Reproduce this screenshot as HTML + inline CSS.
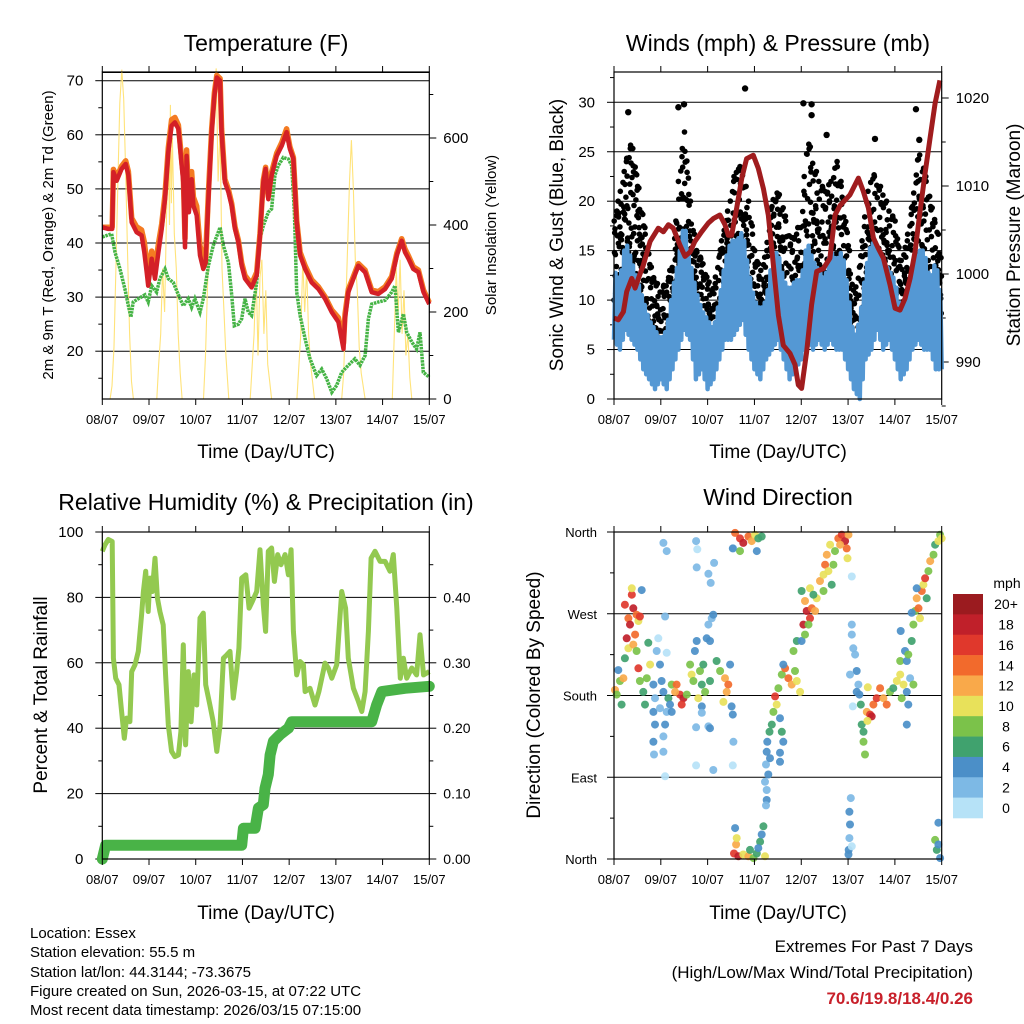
<!DOCTYPE html>
<html><head><meta charset="utf-8"><style>
body{margin:0;background:#fff}
svg{display:block;font-family:"Liberation Sans",Arial,sans-serif}
</style></head><body>
<svg id="s" width="1024" height="1024" viewBox="0 0 1024 1024" xmlns="http://www.w3.org/2000/svg">
<rect width="1024" height="1024" fill="#fff"/>
<g id="p1"></g>
<g id="p2"></g>
<g id="p3"></g>
<g id="p4"></g>
<g id="txt" font-size="15" fill="#000">
<text x="266" y="51" font-size="23" text-anchor="middle">Temperature (F)</text>
<text x="778" y="51" font-size="23" text-anchor="middle">Winds (mph) &amp; Pressure (mb)</text>
<text x="266" y="510" font-size="23" text-anchor="middle">Relative Humidity (%) &amp; Precipitation (in)</text>
<text x="778" y="505" font-size="23" text-anchor="middle">Wind Direction</text>
<text x="266" y="458" font-size="19" text-anchor="middle">Time (Day/UTC)</text>
<text x="778" y="458" font-size="19" text-anchor="middle">Time (Day/UTC)</text>
<text x="266" y="919" font-size="19" text-anchor="middle">Time (Day/UTC)</text>
<text x="778" y="919" font-size="19" text-anchor="middle">Time (Day/UTC)</text>
<text transform="translate(53,235) rotate(-90)" font-size="15" text-anchor="middle">2m &amp; 9m T (Red, Orange) &amp; 2m Td (Green)</text>
<text transform="translate(496,235) rotate(-90)" font-size="15" text-anchor="middle">Solar Insolation (Yellow)</text>
<text transform="translate(563,235) rotate(-90)" font-size="19" text-anchor="middle">Sonic Wind &amp; Gust (Blue, Black)</text>
<text transform="translate(1020,235) rotate(-90)" font-size="19" text-anchor="middle">Station Pressure (Maroon)</text>
<text transform="translate(47,695) rotate(-90)" font-size="19" text-anchor="middle">Percent &amp; Total Rainfall</text>
<text transform="translate(540,695) rotate(-90)" font-size="19" text-anchor="middle">Direction (Colored By Speed)</text>
<text x="30" y="938">Location: Essex</text>
<text x="30" y="957">Station elevation: 55.5 m</text>
<text x="30" y="977">Station lat/lon: 44.3144; -73.3675</text>
<text x="30" y="996">Figure created on Sun, 2026-03-15, at 07:22 UTC</text>
<text x="30" y="1015">Most recent data timestamp: 2026/03/15 07:15:00</text>
<text x="973" y="952" font-size="17" text-anchor="end">Extremes For Past 7 Days</text>
<text x="973" y="978" font-size="17" text-anchor="end">(High/Low/Max Wind/Total Precipitation)</text>
<text x="973" y="1004" font-size="17" font-weight="bold" fill="#c8202a" text-anchor="end">70.6/19.8/18.4/0.26</text>
</g>
</svg>
<script>
// ---------- data ----------
const dayLabels=["08/07","09/07","10/07","11/07","12/07","13/07","14/07","15/07"];
const tempHours=[0,3.1,5.1,5.7,7.4,9.9,12,13.4,15.1,17.6,20.2,21.6,22.8,23.6,25.4,27.1,28.8,30.5,32.2,33.9,35.6,37.3,39.1,40.8,41.6,42.5,43.3,44.5,45.9,46.8,48.5,50.2,51.9,53.1,54.5,56.2,57.6,58.8,60.5,61.3,63,64.8,66.5,68.2,69.9,71.6,73.3,76.7,79.3,81,82.7,83.9,85.3,87,89.6,92.2,94.7,96.4,98.2,99.9,101.6,104.2,107.6,111,114.4,117.9,121.3,123.9,124.7,126.4,129,131.6,135,138.4,141.8,145.3,148.7,151.3,153.8,155.5,157.3,159.8,162.4,165,168];
const temp2m=[42.9,42.6,42.6,53.1,51.5,53.7,54.6,52.5,43.8,42,41.4,38.3,34.6,32.1,37.1,33.4,38.3,42.6,48.1,56.8,61.7,62.3,61.1,54.3,51.2,39.2,56.1,45.7,51.8,46.9,45.1,37.7,35.2,36.4,48.1,60.5,67.2,70.6,70,60.5,51.2,49.4,46.9,42.6,40.1,35.8,33.4,31.8,34,41.4,51.2,53.7,48.1,52.5,56.1,58,60.5,57.4,55.5,43.8,37.7,35.2,32.7,31.5,29.7,27.2,25.4,20.4,26,30.9,33.4,35.8,34.6,30.9,30.6,31.5,33.4,37.7,40.4,38.3,37.1,35.2,34.6,30.9,28.7];
const temp9m=[42.9,42.9,43,53.6,52.2,54.2,55.2,53.2,44.6,43,42.4,40.2,36.5,34.2,38.5,35.3,39.8,43.5,49,57.6,62.8,63.2,61.8,55.2,52.4,40.8,57.2,47.2,53.2,48.5,46.8,39.5,36.8,37.8,49.2,61.2,67.8,71,70.4,61.2,51.8,49.9,47.3,43,40.5,36.3,34,32.4,34.6,41.8,51.6,54,48.6,53.1,56.6,58.6,61.1,57.8,55.8,44.2,38.3,35.8,33.2,31.9,30.1,27.6,26.2,21.5,26.8,31.4,33.8,36.2,35,31.3,31,31.9,33.8,38.1,40.8,38.9,37.6,35.6,35,31.3,29];
const dewHours=[0,4.8,6.5,9.1,11.6,13.4,14.7,15.9,18.5,21.9,23.6,25.4,27.9,29.6,32.2,33.9,36.5,39.1,41.6,44.2,45.9,47.6,50.2,51.9,54.5,57,60.5,62.2,64.8,66.5,67.8,69.9,71.6,73.3,75,76.7,79.3,81,82.7,85.3,87,88.7,90.4,93,95.6,97.3,98.7,99.9,101.6,104.2,106.7,110.1,112.7,115.3,117.9,120.4,123,126.4,129.8,132.4,135,136.7,138.4,141.8,145.3,148.7,150.4,152.1,154.7,156.4,159,161.5,163.2,164.9,168];
const dewPoint=[41.1,41.7,38.3,35.2,31.5,28.4,26.3,29.1,29.7,30.4,29.1,32.1,30.9,33.4,35.2,33.4,32.7,30.4,28.4,29.7,28.1,29.7,27.2,29.7,35.8,39.5,42.9,39.5,36.4,30.4,24.7,25,26,29.7,27.2,26.6,32.7,40.8,43.2,45.7,46.3,52.5,54.3,55.8,55.5,54.3,45.7,30.9,26.6,22.3,18.6,15.5,16.7,14.9,12.4,13.7,16.1,17.4,18.6,17.4,19.2,26,28.7,29.1,29.4,30.9,32.1,23.5,26.9,23.5,21.7,20.4,23.5,16.1,15.2];
const solarHours=[0,4,5,6,7,8,9,10,11,12,13,14,15,16,28,29,30,31,32,33,34,34.5,35,35.5,36,37,38,39,40,41,52,53,54,55,56,57,58.5,59.5,60.5,61.5,62.5,63.5,65,76,78,79,80,81,82,83,84,85,86,87,100,102,103,104,105,106,107,109,123,124,125,126,127,128,129,130,131,132,133,135,149,150,151,152,153,154,155,156,157,158,159,168];
const solar=[0,0,30,120,300,500,680,757,690,520,330,150,40,0,0,80,150,300,200,420,550,400,676,450,600,380,300,150,60,0,0,100,250,400,600,680,760,500,620,300,200,100,0,0,150,300,100,280,320,150,250,80,40,0,0,150,320,200,300,150,80,0,0,60,200,350,500,595,480,320,250,120,60,0,0,150,300,200,320,150,250,100,150,50,0,0];
const presHours=[0,2.2,4.8,6.5,9.1,10.8,12.5,15,18.5,22.7,25.3,27.9,30.4,33.8,36.4,39,41.5,44.9,48.4,50.9,54.3,56.9,58.6,60.3,62.9,65.5,68,71.4,74,76.6,79.1,81.7,84.3,86.8,90.2,92.8,94.5,96.2,98.8,101.3,103.9,107.3,110.7,113.3,115.9,121,125.3,127.8,130.4,133,135.5,138.1,141.5,144.1,146.6,149.2,151.8,154.3,156.9,159.4,162,164.6,167.1];
const pressure=[995,994.8,995.7,998,999.5,998.4,999.5,1001,1003.7,1005.2,1004.8,1005.6,1005.2,1003.3,1002,1002.5,1003.7,1004.8,1005.8,1006.3,1006.7,1005.6,1004.4,1004.4,1007.5,1010.9,1013.1,1013.5,1012,1009.7,1006.7,1001,995.3,991.9,991,989.7,987.4,987,991.2,996.5,1000.3,1000.6,1001.8,1006.7,1007.8,1009,1010.9,1009.4,1007.5,1004.1,1002.9,1001.8,998.8,996.1,995.9,997.2,999.5,1002.5,1007.1,1011.3,1015.4,1019.4,1022];
const windHi=[13,12,16,14,12,10,8,7,6,7,11,14,18,14,11,9,8,7,10,14,16,16,17,13,10,9,10,14,15,12,11,12,12,16,14,13,12,15,14,15,11,6,8,13,16,15,14,13,12,9,10,13,15,15,12,14,10];
const windLo=[6,5,7,6,5,3,2,1,2,1,3,5,7,6,2,3,1,2,4,6,6,7,8,5,3,2,4,5,6,4,2,3,4,6,5,6,5,6,5,5,3,1,0,4,5,7,5,6,4,2,3,5,6,5,5,3,3];
const gustHi=[18,21,24,26,22,18,14,12,11,12,14,22,27,20,15,14,12,11,15,18,21,24,23,20,15,13,15,20,21,19,16,17,18,27,24,22,21,22,24,21,16,10,14,20,23,22,21,19,18,14,16,20,25,23,20,18,14];
const gustLo=[10,9,12,14,12,8,6,4,4,4,7,10,14,10,6,5,4,4,7,9,11,12,12,9,6,5,6,9,10,8,6,7,8,12,11,10,9,10,11,9,6,3,4,8,11,11,10,9,8,6,7,9,10,10,9,8,7];
const gustOutHours=[7.3,33,35.9,67.2,97.1,101.3,101.3,109,154.8,133.8,156.5];
const gustOut=[29,29.5,29.8,31.4,29.9,29.8,28.7,26.7,29.3,26.3,26.2];
const rhHours=[0,1.4,3.1,5.1,5.7,6.9,8.6,9.9,11.3,12.5,14.2,15.1,16.8,18.5,20.2,21.1,22.3,23.6,24.5,25.7,27.1,28.3,29.6,31.3,32.5,33.9,35.6,37.3,39.1,40.4,41.6,42.8,44.2,45.6,47.1,48.5,50.2,51.9,53.1,55.3,57,58.8,60.5,62.2,63.9,65.6,67.3,69,70.2,71.6,73.7,75.4,77.1,79.3,81,82.7,83.9,85.3,87,88.4,90.1,91.8,93.9,95.6,97,98.2,99.9,101.6,103.3,104.2,106.7,109.3,111.3,114.4,116.1,117.9,120.4,123,125,126.4,129,131.6,133.3,135,136.7,138.1,140.1,142.7,145.3,147.8,149.5,151.3,153.1,154.7,156.4,159,161.5,163.2,165,168];
const rh=[94.1,96.1,97.7,97.1,61.4,55.3,53.3,45.1,36.9,43.1,42,57.3,59.4,63.5,74.7,81.8,88,75.7,85.9,81.8,92,79.8,75.7,71.6,56.3,41,32.9,31.3,31.8,39,65.5,34.9,57.3,42,56.3,47.1,73.7,75.2,53.3,47.1,42,32.9,41,61.4,62.4,63.5,49.2,57.3,64.5,85.9,86.9,76.7,78.8,81.8,94.6,77.8,69.6,94.1,95.1,84.9,93.1,90,93.1,86.9,94.6,69.6,56.3,60.4,59.4,51.2,52.2,47.1,51.2,59.9,58.4,55.3,59.4,81.8,76.7,61.4,52.2,48.2,45.1,51.2,69.6,92,94.1,91,91,88,93.1,76.7,55.3,61.4,55.3,58.4,56.3,68.6,56.3,57.3];
const rainHours=[0,1.7,71.6,72.5,78.5,80.2,82.7,83.6,85.3,86.2,87.9,91.3,95.6,97.3,138.4,141,143.6,155.5,168];
const rain=[0,0.021,0.021,0.047,0.047,0.078,0.083,0.108,0.129,0.159,0.18,0.19,0.2,0.21,0.21,0.236,0.256,0.261,0.264];
const dirHours=[0.5,1.4,3.1,4.8,3.9,2.2,5.6,7.4,9.1,9.1,9.9,8.2,6.5,10.8,12.5,11.6,13.3,5.6,7.4,9.9,11.6,14.2,12.5,13.3,15,16.8,18.5,15.9,17.6,20.2,21,21.9,20.2,21,20.2,20.5,23.6,24.4,25.3,23.6,26.2,27,27.9,29.6,28.7,25.3,25.3,26.2,27,22.7,26.2,25.3,27,32.1,33.8,35.6,34.7,31.3,37.3,29.6,39,39.8,41.5,40.7,42.4,44.1,45,45.8,47.5,48.4,49.2,46.7,49.2,45,43.2,50.1,50.9,42.1,42.7,42.4,48.4,49.6,51.3,42.1,42.1,50.9,48.4,49.2,45,52.6,54.4,56.9,58.6,57.8,59.5,56.1,60.3,60.9,61.2,60.9,61.2,62.1,64.6,66.3,68.9,70.6,72.3,74,75.7,73.2,64.6,60.9,61.5,62.6,62.9,62.1,63.8,66.3,68.9,71.5,73.2,74.9,75.7,76.6,74,69.7,77.4,77.4,77.9,78.3,78.6,79.7,80.9,81.7,82.6,83.4,84.3,80,79.1,78.3,78.3,77.9,85.1,86,85.1,85.1,86.8,86,87.7,89.4,91.1,92.8,93.7,95.4,86.8,92,93.7,96.2,96.2,97.9,98.8,100.5,101.4,103.1,97.1,99.7,103.9,100.5,97.9,102.2,105.6,107.4,108.2,109.1,110.8,111.6,113.3,115,116.8,118.5,119.3,120.2,119.7,115.9,112.5,109.9,107.4,121.9,121.9,122.7,123.6,124.4,125.3,125.8,126.5,122.4,121,121.9,124.4,121.4,120.7,121,120.7,120.3,121.9,120.2,127,127.9,128.7,129.6,131.3,133,134.7,132.1,127.9,129.9,136.4,130.1,138.1,139.8,141.5,143.2,145,146.7,148.4,147.5,150.1,150.9,150.1,151.8,153.5,149.2,146.7,147,150.1,150.9,152.6,153.5,154.4,155.2,156.1,156.9,157.8,158.6,159.5,161.2,162.1,163.8,164.6,166.3,167.2,168,155.2,152.6,160.3,164.6,165.5,166.3,166.3,167.2];
const dirDeg=[186,181,196,199,170,208,280,265,291,298,276,258,243,247,262,269,267,221,232,236,229,296,210,196,184,199,214,170,238,192,177,229,162,148,129,115,214,196,184,166,148,162,177,192,170,135,118,91,227,243,267,348,339,192,181,177,170,184,181,162,214,203,229,196,240,207,192,214,243,258,240,184,196,168,177,265,269,350,341,321,314,304,326,145,103,98,146,144,161,218,207,199,192,184,214,173,168,159,129,103,342,359,353,348,355,350,357,353,355,339,339,342,6,16,23,34,3,5,3,1,6,19,27,36,12,10,3,85,104,118,129,140,148,162,179,170,188,111,93,76,65,59,155,140,117,107,129,203,210,199,192,207,196,184,214,229,240,240,295,284,273,265,276,273,258,258,287,298,247,291,306,313,324,335,346,302,339,353,357,350,342,357,331,346,324,317,295,258,247,232,225,207,192,181,170,168,203,311,184,67,52,38,23,10,14,5,148,129,115,162,159,170,177,157,140,152,188,189,177,170,184,188,196,203,192,177,184,170,148,199,192,229,218,251,218,225,240,258,273,287,276,265,295,302,309,317,328,335,346,350,357,353,298,271,287,21,10,16,40,1];
const dirSpeed=[12,8,8,12,6,4,16,14,16,10,18,18,18,14,10,14,16,6,10,12,8,4,16,8,6,8,10,6,6,4,2,2,4,4,4,2,4,4,4,2,4,2,6,8,4,2,2,1,1,1,2,2,2,14,16,18,16,12,8,4,8,10,4,8,4,8,6,6,4,2,4,8,6,4,10,2,4,2,1,2,2,2,2,2,1,2,2,4,2,6,8,12,14,12,4,10,4,4,2,1,1,14,16,18,14,12,10,6,6,4,8,4,16,12,10,4,18,10,12,8,6,6,4,6,4,6,10,2,2,4,4,6,6,8,16,10,8,4,4,2,4,2,4,6,4,4,4,8,14,14,12,8,10,10,4,8,6,4,6,12,18,16,14,12,18,8,10,10,8,6,12,10,14,12,10,6,8,14,16,18,14,12,10,12,8,10,8,2,2,2,2,4,2,4,6,1,2,1,4,2,4,4,2,4,1,4,6,8,8,12,16,14,16,18,6,10,14,10,12,14,8,6,10,10,10,8,4,4,4,2,8,4,8,4,4,8,6,8,8,12,14,10,14,10,16,8,12,8,6,10,8,10,4,4,6,8,6,4,4,4];
const speedColors=["#b6e2f7","#7db9e5","#4b8fc8","#40a26e","#7bc24a","#e8e15a","#f9a94a","#f26a2c","#e0382c","#c0202a","#9b1b1f"];
const speedLabels=["0","2","4","6","8","10","12","14","16","18","20+"];
const tempTicks=[20,30,40,50,60,70], solarTicks=[0,200,400,600], windTicks=[0,5,10,15,20,25,30], presTicks=[990,1000,1010,1020];
const rhTicks=[0,20,40,60,80,100], rainTicks=["0.00","0.10","0.20","0.30","0.40"];
const dirTicks=[0,90,180,270,360], dirLabels=["North","East","South","West","North"];

// ---------- scales ----------
const NS="http://www.w3.org/2000/svg";
const L={x0:102.3,x1:429.3}, R={x0:614,x1:941.7};
const T={y0:72,y1:399}, B={y0:532,y1:859};
const xL=h=>L.x0+h*(L.x1-L.x0)/168, xR=h=>R.x0+h*(R.x1-R.x0)/168;
const yT=t=>80.7+(70-t)*5.41, yS=s=>399-s*0.435;
const yW=w=>399-w*9.89, yP=p=>98+(1020-p)*8.8;
const yRH=r=>859-r*3.27, yRain=v=>859-v*654;
const yD=d=>859-d*(B.y1-B.y0)/360;
function el(p,tag,at){const e=document.createElementNS(NS,tag);for(const k in at)e.setAttribute(k,at[k]);p.appendChild(e);return e;}
function pts(hs,vs,fx,fy){return hs.map((h,i)=>fx(h).toFixed(1)+","+fy(vs[i]).toFixed(1)).join(" ");}
const P1=document.getElementById('p1'),P2=document.getElementById('p2'),P3=document.getElementById('p3'),P4=document.getElementById('p4');

function frame(g,X,Y,fx){
  for(let d=0;d<8;d++){const x=fx(d*24);
    const t=el(g,'line',{x1:x,x2:x,y1:Y.y1,y2:Y.y1+6,stroke:'#000','stroke-width':1});
    
    el(g,'line',{x1:x,x2:x,y1:Y.y0,y2:Y.y0-6,stroke:'#000','stroke-width':1});
    const lb=el(g,'text',{x:x,y:Y.y1+25,'font-size':13,'text-anchor':'middle'});lb.textContent=dayLabels[d];
    }
}
function border(g,X,Y){const r=el(g,'rect',{x:X.x0,y:Y.y0,width:X.x1-X.x0,height:Y.y1-Y.y0,fill:'none',stroke:'#000','stroke-width':1.2});
  }
function hgrid(g,X,y){const l=el(g,'line',{x1:X.x0,x2:X.x1,y1:y,y2:y,stroke:'#000','stroke-width':1});
  }
function ytick(g,x,y,dir,label,anchor,len,fs){el(g,'line',{x1:x,x2:x+dir*(len||7),y1:y,y2:y,stroke:'#000','stroke-width':1});
  if(label!==null){const t=el(g,'text',{x:x+dir*(anchor==='end'?19:14),y:y+5,'font-size':fs||15,'text-anchor':anchor});t.textContent=label;
  }}

// ---------- panel 1 : temperature ----------
tempTicks.forEach(t=>{hgrid(P1,L,yT(t));ytick(P1,L.x0,yT(t),-1,String(t),'end');});
[15,25,35,45,55,65].forEach(t=>ytick(P1,L.x0,yT(t),-1,null,'end',4));
solarTicks.forEach(s=>ytick(P1,L.x1,yS(s),1,String(s),'start'));
[100,300,500,700].forEach(s=>ytick(P1,L.x1,yS(s),1,null,'start',4));
hgrid(P1,L,T.y0+0.5);
let e;
e=el(P1,'polyline',{points:pts(solarHours,solar,xL,yS),fill:'none',stroke:'#ffe37a','stroke-width':1.1});

e=el(P1,'polyline',{points:pts(dewHours,dewPoint,xL,yT),fill:'none',stroke:'#46b446','stroke-width':3.5,'stroke-dasharray':'2.5 0.8'});

e=el(P1,'polyline',{points:pts(tempHours,temp9m,xL,yT),fill:'none',stroke:'#f47b22','stroke-width':5.5,'stroke-linejoin':'round'});

e=el(P1,'polyline',{points:pts(tempHours,temp2m,xL,yT),fill:'none',stroke:'#d42027','stroke-width':4.5,'stroke-linejoin':'round'});

border(P1,L,T);frame(P1,L,T,xL);

// ---------- panel 2 : winds ----------
windTicks.forEach(w=>{if(w>0)hgrid(P2,R,yW(w));ytick(P2,R.x0,yW(w),-1,String(w),'end');});
[2.5,7.5,12.5,17.5,22.5,27.5,32.5].forEach(w=>ytick(P2,R.x0,yW(w),-1,null,'end',4));
presTicks.forEach(p=>ytick(P2,R.x1,yP(p),1,String(p),'start'));
[985,995,1005,1015].forEach(p=>ytick(P2,R.x1,yP(p),1,null,'start',4));
const gG=el(P2,'g',{fill:'#000'});
const fr=[0,0.55,0.2,0.85,0.4,1,0.1,0.7,0.3,0.95,0.6,0.15];
for(let i=0;i<gustHi.length-1;i++){for(let k=0;k<6;k++){const f=k/6,h=(i+f)*3;
  const hi=gustHi[i]+(gustHi[i+1]-gustHi[i])*f, lo=gustLo[i]+(gustLo[i+1]-gustLo[i])*f;
  for(let j=0;j<4;j++){const q=fr[(i*7+k*3+j*5)%12];el(gG,'circle',{cx:xR(h+j*0.12).toFixed(1),cy:yW(lo+(hi-lo)*q).toFixed(1),r:2.8});}}}
gustOutHours.forEach((h,i)=>{el(gG,'circle',{cx:xR(h),cy:yW(gustOut[i]),r:3.2});});
let wp=[];for(let i=0;i<windHi.length-1;i++){for(let k=0;k<4;k++){const f=k/4,h=(i+f)*3;
  const v=(k%2===0)?windLo[i]+(windLo[i+1]-windLo[i])*f:windHi[i]+(windHi[i+1]-windHi[i])*f;wp.push(xR(h).toFixed(1)+","+yW(v).toFixed(1));}}
wp.push(xR(168)+","+yW(windLo[windLo.length-1]));
e=el(P2,'polyline',{points:wp.join(" "),fill:'none',stroke:'#5498d4','stroke-width':4.5,'stroke-linejoin':'round'});

e=el(P2,'polyline',{points:pts(presHours,pressure,xR,yP),fill:'none',stroke:'#a01c1e','stroke-width':5,'stroke-linejoin':'round'});

border(P2,R,T);frame(P2,R,T,xR);

// ---------- panel 3 : humidity ----------
rhTicks.forEach(r=>{if(r>0&&r<100)hgrid(P3,L,yRH(r));ytick(P3,L.x0,yRH(r),-1,String(r),'end');});
[10,30,50,70,90].forEach(r=>ytick(P3,L.x0,yRH(r),-1,null,'end',4));
rainTicks.forEach(v=>ytick(P3,L.x1,yRain(+v),1,v,'start',7,14));
[0.05,0.15,0.25,0.35,0.45].forEach(v=>ytick(P3,L.x1,yRain(v),1,null,'start',4));
e=el(P3,'polyline',{points:pts(rhHours,rh,xL,yRH),fill:'none',stroke:'#93c950','stroke-width':5,'stroke-linejoin':'round'});

e=el(P3,'polyline',{points:pts(rainHours,rain,xL,yRain),fill:'none',stroke:'#49b347','stroke-width':11,'stroke-linejoin':'round','stroke-linecap':'round'});

border(P3,L,B);frame(P3,L,B,xL);

// ---------- panel 4 : wind direction ----------
dirTicks.forEach((d,i)=>{if(d>0&&d<360)hgrid(P4,R,yD(d));el(P4,'line',{x1:R.x0,x2:R.x0-7,y1:yD(d),y2:yD(d),stroke:'#000'});
  const t=el(P4,'text',{x:R.x0-17,y:yD(d)+5,'font-size':13,'text-anchor':'end'});t.textContent=dirLabels[i];
  });
[45,135,225,315].forEach(d=>el(P4,'line',{x1:R.x0,x2:R.x0-4,y1:yD(d),y2:yD(d),stroke:'#000'}));
const gD=el(P4,'g',{});
dirHours.forEach((h,i)=>{const b=Math.min(10,Math.floor(dirSpeed[i]/2));
  el(gD,'circle',{cx:xR(h).toFixed(1),cy:yD(dirDeg[i]).toFixed(1),r:4,fill:speedColors[b],'fill-opacity':0.92});});
border(P4,R,B);frame(P4,R,B,xR);
// colorbar
const cb=el(P4,'g',{});
const cbTop=594,cbH=224/11;
speedColors.forEach((c,i)=>{const k=10-i;const y=cbTop+i*cbH;
  el(cb,'rect',{x:953,y:y,width:30,height:cbH+0.3,fill:speedColors[k]});
  const t=el(cb,'text',{x:1006,y:y+cbH/2+5,'font-size':14,'text-anchor':'middle'});t.textContent=speedLabels[k];
  });
const mt=el(cb,'text',{x:1007,y:588,'font-size':14,'text-anchor':'middle'});mt.textContent="mph";

</script>
</body></html>
